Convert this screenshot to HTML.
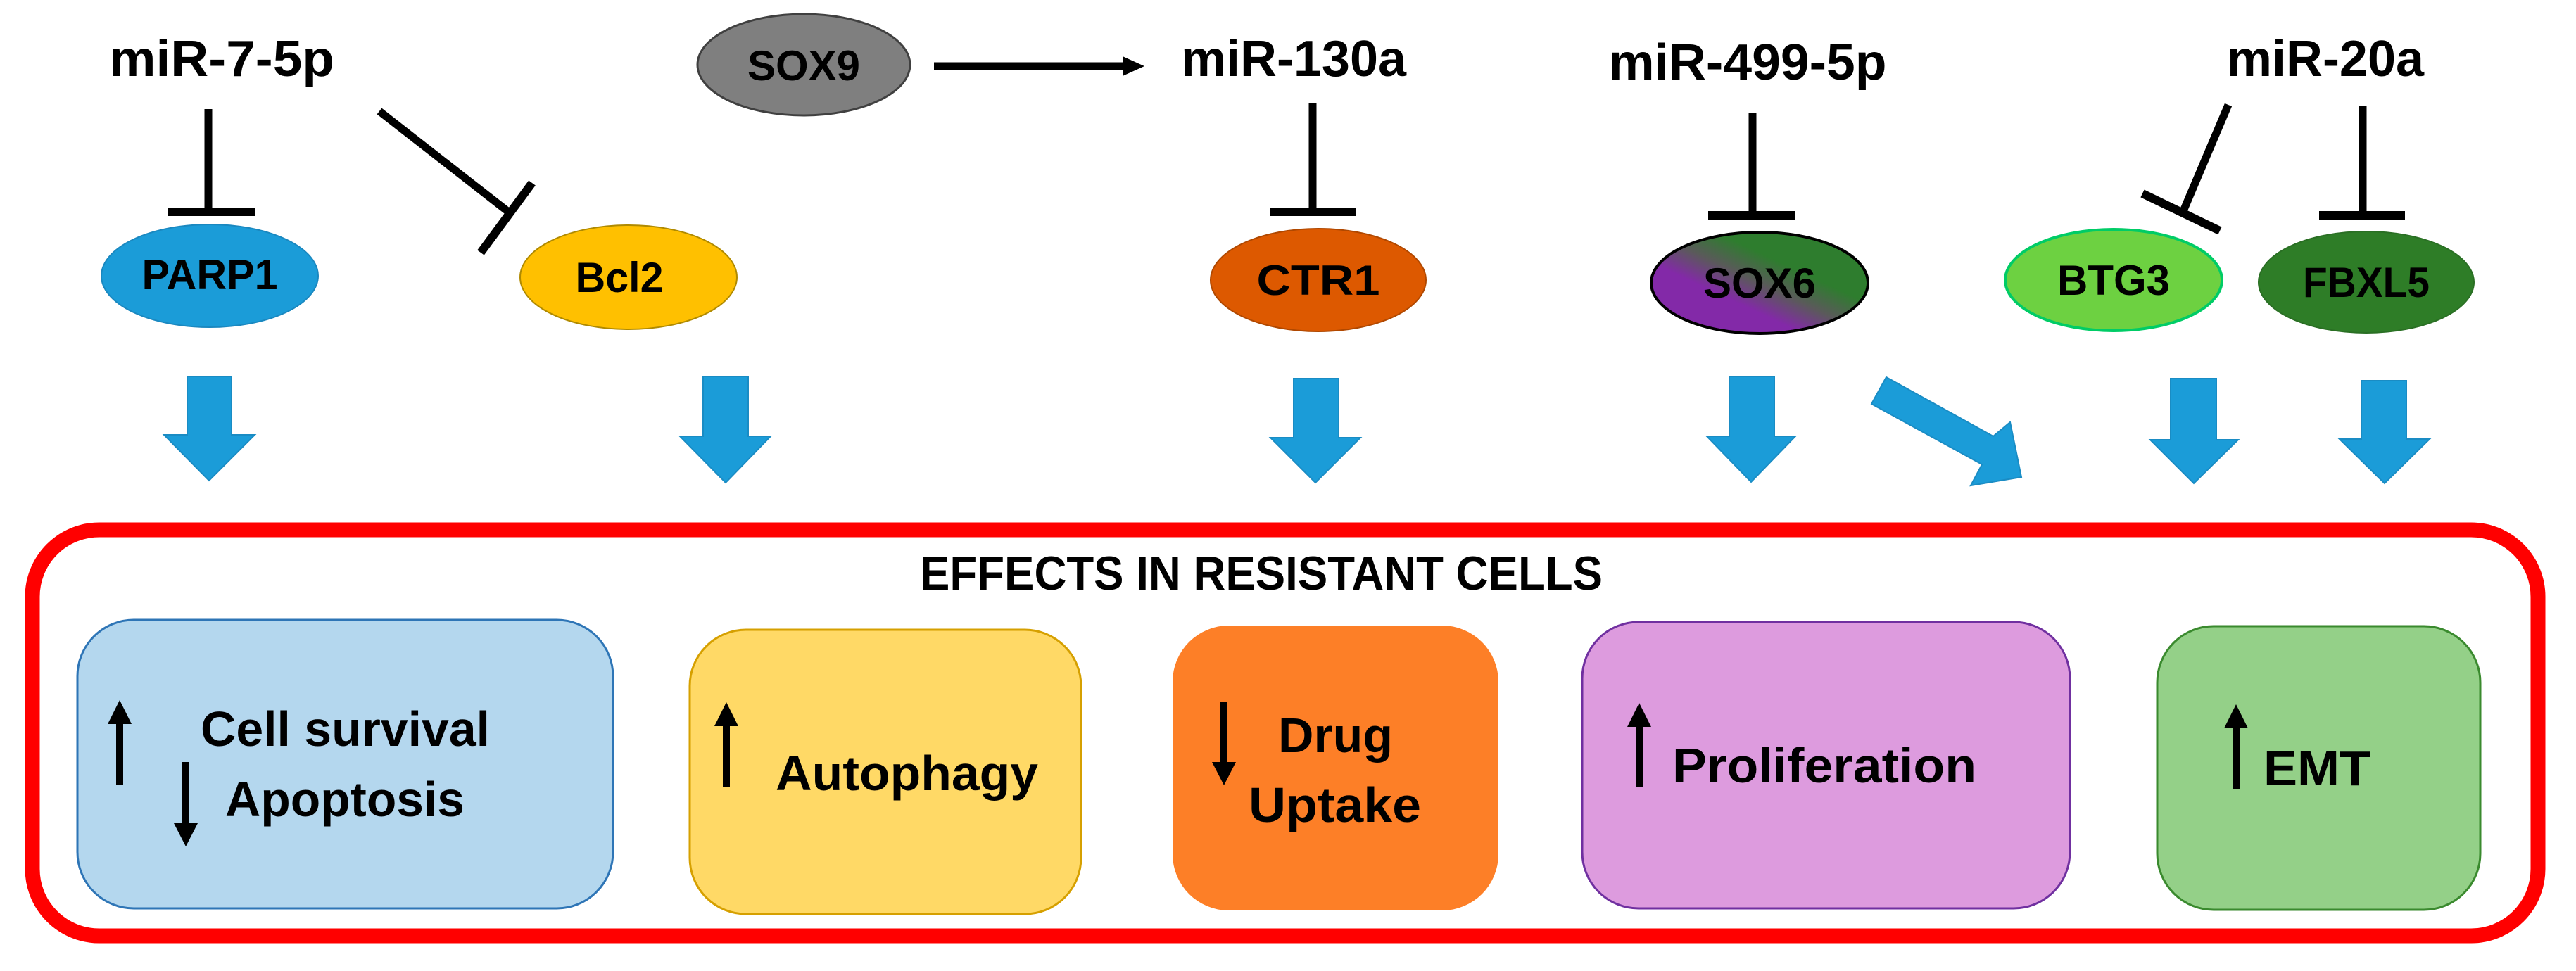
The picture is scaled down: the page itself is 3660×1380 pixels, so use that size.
<!DOCTYPE html>
<html><head><meta charset="utf-8"><style>html,body{margin:0;padding:0;background:#fff}svg{display:block}</style></head>
<body>
<svg width="3660" height="1380" viewBox="0 0 3660 1380" xmlns="http://www.w3.org/2000/svg" font-family="Liberation Sans, sans-serif" font-weight="bold">
<defs>
<linearGradient id="g6" x1="0" y1="1" x2="1" y2="0">
<stop offset="0.35" stop-color="#8329a8"/><stop offset="0.5" stop-color="#5a5a5a"/><stop offset="0.65" stop-color="#2e7d2e"/>
</linearGradient>
</defs>
<g font-size="72" text-anchor="middle" fill="#000">
<text x="315" y="108" textLength="320" lengthAdjust="spacingAndGlyphs">miR-7-5p</text>
<text x="1838" y="108" textLength="320" lengthAdjust="spacingAndGlyphs">miR-130a</text>
<text x="2483" y="113" textLength="395" lengthAdjust="spacingAndGlyphs">miR-499-5p</text>
<text x="3304" y="108" textLength="280" lengthAdjust="spacingAndGlyphs">miR-20a</text>
</g>
<ellipse cx="1142" cy="92" rx="151" ry="72" fill="#7f7f7f" stroke="#404040" stroke-width="3"/>
<text x="1142" y="114" font-size="60" text-anchor="middle" textLength="160" lengthAdjust="spacingAndGlyphs">SOX9</text>
<line x1="1327" y1="94" x2="1600" y2="94" stroke="#000" stroke-width="11"/>
<polygon points="1626,94 1595,80 1595,108" fill="#000"/>
<g stroke="#000" stroke-width="11" fill="none">
<line x1="296" y1="155" x2="296" y2="300"/>
<line x1="539" y1="158" x2="721" y2="300"/>
<line x1="1865" y1="146" x2="1865" y2="300"/>
<line x1="2490" y1="161" x2="2490" y2="306"/>
<line x1="3166" y1="149" x2="3102" y2="300"/>
<line x1="3357" y1="150" x2="3357" y2="306"/>
</g>
<g stroke="#000" stroke-width="12">
<line x1="239" y1="301" x2="362" y2="301"/>
<line x1="756" y1="260" x2="683" y2="359"/>
<line x1="1805" y1="301" x2="1927" y2="301"/>
<line x1="2427" y1="306" x2="2550" y2="306"/>
<line x1="3044" y1="275" x2="3154" y2="328"/>
<line x1="3295" y1="306" x2="3417" y2="306"/>
</g>
<ellipse cx="298" cy="392" rx="154" ry="73" fill="#1b9cd8" stroke="#1a88c0" stroke-width="2"/>
<ellipse cx="893" cy="394" rx="154" ry="74" fill="#ffc000" stroke="#b08a00" stroke-width="2"/>
<ellipse cx="1873" cy="398" rx="153" ry="73" fill="#dd5900" stroke="#b04800" stroke-width="2"/>
<ellipse cx="2500" cy="402" rx="154" ry="72" fill="url(#g6)" stroke="#000" stroke-width="4"/>
<ellipse cx="3003" cy="398" rx="154" ry="72" fill="#6dd141" stroke="#00cc66" stroke-width="4"/>
<ellipse cx="3362" cy="401" rx="153" ry="72" fill="#2e7d27" stroke="#2a6f24" stroke-width="2"/>
<g font-size="60" text-anchor="middle" fill="#000">
<text x="298" y="411" textLength="193" lengthAdjust="spacingAndGlyphs">PARP1</text>
<text x="880" y="415" textLength="125" lengthAdjust="spacingAndGlyphs">Bcl2</text>
<text x="1873" y="419" textLength="175" lengthAdjust="spacingAndGlyphs">CTR1</text>
<text x="2500" y="423" textLength="160" lengthAdjust="spacingAndGlyphs">SOX6</text>
<text x="3003" y="419" textLength="160" lengthAdjust="spacingAndGlyphs">BTG3</text>
<text x="3362" y="422" textLength="180" lengthAdjust="spacingAndGlyphs">FBXL5</text>
</g>
<g fill="#1b9cd8" stroke="#1a8cc4" stroke-width="2">
<polygon points="266,535 329,535 329,618 362,618 297,683 233,618 266,618"/>
<polygon points="999,535 1063,535 1063,620 1095,620 1031,686 966,620 999,620"/>
<polygon points="1838,538 1902,538 1902,622 1933,622 1869,686 1805,622 1838,622"/>
<polygon points="2457,535 2521,535 2521,620 2551,620 2488,685 2425,620 2457,620"/>
<polygon points="2680,536 2832,620 2856,600 2872,678 2800,690 2816,660 2659,574"/>
<polygon points="3084,538 3149,538 3149,625 3180,625 3117,687 3055,625 3084,625"/>
<polygon points="3355,541 3419,541 3419,624 3452,624 3388,687 3324,624 3355,624"/>
</g>
<rect x="46" y="753" width="3560" height="577" rx="95" ry="95" fill="#fff" stroke="#ff0000" stroke-width="21"/>
<text x="1792" y="838" font-size="68" text-anchor="middle" textLength="970" lengthAdjust="spacingAndGlyphs">EFFECTS IN RESISTANT CELLS</text>
<rect x="110" y="881" width="761" height="410" rx="80" fill="#b4d7ee" stroke="#2e75b6" stroke-width="3"/>
<rect x="980" y="895" width="556" height="404" rx="80" fill="#ffd966" stroke="#d6a000" stroke-width="3"/>
<rect x="1666" y="889" width="463" height="405" rx="80" fill="#fd7f27"/>
<rect x="2248" y="884" width="693" height="407" rx="80" fill="#dd9bde" stroke="#7030a0" stroke-width="3"/>
<rect x="3065" y="890" width="459" height="403" rx="80" fill="#94d088" stroke="#3a8a2e" stroke-width="3"/>
<g font-size="70" fill="#000">
<text x="285" y="1060" textLength="411" lengthAdjust="spacingAndGlyphs">Cell survival</text>
<text x="320" y="1160" textLength="340" lengthAdjust="spacingAndGlyphs">Apoptosis</text>
<text x="1102" y="1123" textLength="373" lengthAdjust="spacingAndGlyphs">Autophagy</text>
<text x="1816" y="1069" textLength="163" lengthAdjust="spacingAndGlyphs">Drug</text>
<text x="1774" y="1168" textLength="245" lengthAdjust="spacingAndGlyphs">Uptake</text>
<text x="2376" y="1112" textLength="432" lengthAdjust="spacingAndGlyphs">Proliferation</text>
<text x="3216" y="1116" textLength="152" lengthAdjust="spacingAndGlyphs">EMT</text>
</g>
<g stroke="#000" stroke-width="10">
<line x1="170" y1="1020" x2="170" y2="1116"/>
<line x1="264" y1="1083" x2="264" y2="1180"/>
<line x1="1032" y1="1023" x2="1032" y2="1118"/>
<line x1="1739" y1="998" x2="1739" y2="1093"/>
<line x1="2329" y1="1024" x2="2329" y2="1118"/>
<line x1="3177" y1="1026" x2="3177" y2="1121"/>
</g>
<g fill="#000">
<polygon points="170,995 153,1029 187,1029"/>
<polygon points="264,1203 247,1170 281,1170"/>
<polygon points="1032,998 1015,1032 1049,1032"/>
<polygon points="1739,1116 1722,1083 1756,1083"/>
<polygon points="2329,999 2312,1033 2346,1033"/>
<polygon points="3177,1001 3160,1035 3194,1035"/>
</g>
</svg>
</body></html>
